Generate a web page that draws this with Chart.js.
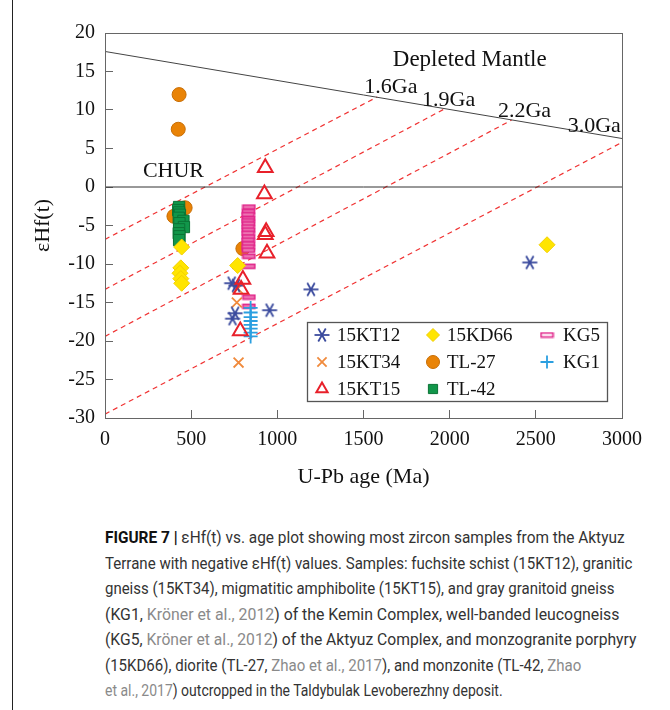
<!DOCTYPE html>
<html lang="en">
<head>
  <meta charset="UTF-8"/>
  <title>eHf(t) vs age</title>
  <script src="https://cdn.jsdelivr.net/npm/chart.js"></script>
  <style>
    body { margin: 0; background: #fff; width: 670px; height: 710px; position: relative; overflow: hidden; }
    #edge { position: absolute; left: 12px; top: 0; width: 0; height: 710px; border-left: 1.5px solid #222; }
    #wrap { position: absolute; left: 0; top: 0; width: 670px; height: 500px; }
    #caption { position: absolute; left: 105px; top: 525px;
      font-family: Roboto, "Liberation Sans", sans-serif; font-size: 17px; line-height: 25.5px;
      color: #333; white-space: nowrap; }
    #caption div { display: inline-block; transform-origin: left top; }
    #caption b { color: #111; }
    #caption .ref { color: #8a8a8a; }
  </style>
</head>
<body>
  <div id="edge"></div>
  <div id="wrap"><canvas id="chart" width="670" height="500"></canvas></div>
  <div id="caption">
    <div data-w="520"><b>FIGURE 7 |</b> εHf(t) vs. age plot showing most zircon samples from the Aktyuz</div><br>
    <div data-w="527">Terrane with negative εHf(t) values. Samples: fuchsite schist (15KT12), granitic</div><br>
    <div data-w="509">gneiss (15KT34), migmatitic amphibolite (15KT15), and gray granitoid gneiss</div><br>
    <div data-w="514">(KG1, <span class="ref">Kröner et al., 2012</span>) of the Kemin Complex, well-banded leucogneiss</div><br>
    <div data-w="531">(KG5, <span class="ref">Kröner et al., 2012</span>) of the Aktyuz Complex, and monzogranite porphyry</div><br>
    <div data-w="476">(15KD66), diorite (TL-27, <span class="ref">Zhao et al., 2017</span>), and monzonite (TL-42, <span class="ref">Zhao</span></div><br>
    <div data-w="398"><span class="ref">et al., 2017</span>) outcropped in the Taldybulak Levoberezhny deposit.</div>
  </div>

  <script>
    // sample data: U-Pb age (Ma) and eHf(t)
    const age15KT12 = [735, 760, 755, 740, 955, 1195, 2465];
    const eps15KT12 = [-12.5, -12.8, -16.4, -17.1, -16.0, -13.3, -9.8];

    const age15KT34 = [770, 765, 775];
    const eps15KT34 = [-13.2, -15.0, -22.8];

    const age15KT15 = [930, 925, 935, 930, 940, 800, 790, 785];
    const eps15KT15 = [2.5, -0.9, -5.8, -6.2, -8.6, -12.0, -13.3, -18.7];

    const age15KD66 = [445, 440, 435, 440, 445, 770, 2565];
    const eps15KD66 = [-7.8, -10.5, -11.2, -11.9, -12.5, -10.2, -7.5];

    const ageTL27 = [430, 425, 400, 465, 800];
    const epsTL27 = [12.0, 7.5, -3.8, -2.7, -8.0];

    const ageTL42 = [430, 425, 430, 435, 428, 455, 432, 458, 430, 428, 432, 430];
    const epsTL42 = [-2.6, -3.0, -3.3, -3.6, -4.0, -4.4, -4.7, -5.2, -5.5, -6.0, -6.4, -6.9];

    const ageKG5 = [835, 832, 830, 832, 830, 832, 830, 832, 830, 832, 830, 832, 830, 832, 835, 835, 835, 835];
    const epsKG5 = [-2.6, -3.2, -3.6, -4.1, -4.4, -4.8, -5.2, -5.6, -6.0, -6.5, -6.9, -7.4, -7.8, -8.2, -9.0, -10.3, -14.3, -15.5];

    const ageKG1 = [845, 845, 845, 845, 845, 845, 845, 845];
    const epsKG1 = [-15.7, -16.3, -16.9, -17.4, -17.9, -18.4, -18.9, -19.4];

    // reference lines
    const dmAge = [0, 3000];
    const dmEps = [17.6, 6.3];
    const churAge = [0, 3000];
    const churEps = [0, 0];
    const evoLabels = ['1.6Ga', '1.9Ga', '2.2Ga', '3.0Ga'];
    const evoAgeStart = [0, 0, 0, 0];
    const evoEpsStart = [-6.8, -13.3, -19.4, -29.5];
    const evoAgeEnd = [1580, 1975, 2360, 3000];
    const evoEpsEnd = [11.7, 10.2, 8.7, 5.8];

    const xTicks = [0, 500, 1000, 1500, 2000, 2500, 3000];
    const yTicks = [20, 15, 10, 5, 0, -5, -10, -15, -20, -25, -30];

    const zip = (a, b) => a.map((v, i) => ({x: v, y: b[i]}));

    // squeeze each caption line to the width it has in the figure
    document.querySelectorAll('#caption div').forEach(d => {
      d.style.transform = 'scaleX(' + (d.dataset.w / d.offsetWidth) + ')';
    });

    // custom markers
    function asterisk(color) {
      let c = document.createElement('canvas');
      c.width = 18; c.height = 18;
      let g = c.getContext('2d');
      g.strokeStyle = color; g.lineWidth = 1.8;
      for (let a = 0; a < 3; a++) {
        let t = a * Math.PI / 3;
        g.beginPath();
        g.moveTo(9 - 7.5 * Math.cos(t), 9 - 7.5 * Math.sin(t));
        g.lineTo(9 + 7.5 * Math.cos(t), 9 + 7.5 * Math.sin(t));
        g.stroke();
      }
      return c;
    }
    function bar(color, fill) {
      let c = document.createElement('canvas');
      c.width = 15; c.height = 7;
      let g = c.getContext('2d');
      g.fillStyle = fill;
      g.fillRect(1, 1, 13, 5);
      g.strokeStyle = color; g.lineWidth = 1.6;
      g.strokeRect(1.5, 1.5, 12, 4);
      return c;
    }

    const navy = '#3b4b9e', orangeX = '#f08a3c', red = '#e8202a', yellow = '#ffe500',
          orange = '#e98306', green = '#11964a', pink = '#e0268a', sky = '#2b9fe0';

    const samples = [
      {label: '15KT12', data: zip(age15KT12, eps15KT12), pointStyle: asterisk(navy), pointRadius: 8,
       backgroundColor: navy, borderColor: navy, order: 2},
      {label: '15KT34', data: zip(age15KT34, eps15KT34), pointStyle: 'crossRot', pointRadius: 7, borderWidth: 1.8,
       backgroundColor: orangeX, borderColor: orangeX, order: 3},
      {label: '15KT15', data: zip(age15KT15, eps15KT15), pointStyle: 'triangle', pointRadius: 8.5, borderWidth: 2,
       backgroundColor: 'rgba(255,255,255,0)', borderColor: red, order: 1},
      {label: '15KD66', data: zip(age15KD66, eps15KD66), pointStyle: 'rectRot', pointRadius: 8, borderWidth: 1,
       backgroundColor: yellow, borderColor: '#f2cf00', order: 4},
      {label: 'TL-27', data: zip(ageTL27, epsTL27), pointStyle: 'circle', pointRadius: 7, borderWidth: 1,
       backgroundColor: orange, borderColor: '#c86e05', order: 9},
      {label: 'TL-42', data: zip(ageTL42, epsTL42), pointStyle: 'rect', pointRadius: 8, borderWidth: 1,
       backgroundColor: green, borderColor: '#0b7335', order: 8},
      {label: 'KG5', data: zip(ageKG5, epsKG5), pointStyle: bar(pink, '#ee7ab5'), pointRadius: 7,
       backgroundColor: pink, borderColor: pink, order: 6},
      {label: 'KG1', data: zip(ageKG1, epsKG1), pointStyle: 'cross', pointRadius: 7, borderWidth: 1.8,
       backgroundColor: sky, borderColor: sky, order: 5}
    ];
    const legendStyle = {KG5: bar(pink, '#fff')};

    const lines = [
      {label: 'DM', data: zip(dmAge, dmEps), showLine: true, pointRadius: 0, borderColor: '#444',
       borderWidth: 1, order: 20},
      {label: 'CHUR', data: zip(churAge, churEps), showLine: true, pointRadius: 0, borderColor: '#333',
       borderWidth: 1, order: 20}
    ];
    evoLabels.forEach((lab, i) => {
      lines.push({label: lab, data: zip([evoAgeStart[i], evoAgeEnd[i]], [evoEpsStart[i], evoEpsEnd[i]]),
        showLine: true, pointRadius: 0, borderColor: '#f03232', borderWidth: 1.2, borderDash: [5, 4], order: 20});
    });

    const serif = '"Liberation Serif", "Times New Roman", serif';

    // plot frame (top and right sides too)
    const framePlugin = {
      id: 'frame',
      afterDatasetsDraw(chart) {
        const {ctx, chartArea: a} = chart;
        ctx.save();
        ctx.strokeStyle = '#666';
        ctx.lineWidth = 1;
        ctx.strokeRect(a.left + 0.5, a.top + 0.5, a.right - a.left, a.bottom - a.top);
        ctx.restore();
      }
    };

    // text labels on the plot
    const notesPlugin = {
      id: 'notes',
      afterDatasetsDraw(chart) {
        const {ctx, scales: {x, y}} = chart;
        const notes = [
          ['Depleted Mantle', 1670, 16.5, 23],
          ['CHUR', 220, 2.1, 22],
          ['1.6Ga', 1505, 13.0, 22],
          ['1.9Ga', 1840, 11.3, 22],
          ['2.2Ga', 2280, 9.9, 22],
          ['3.0Ga', 2685, 7.9, 22]
        ];
        ctx.save();
        ctx.fillStyle = '#111';
        ctx.textBaseline = 'middle';
        ctx.textAlign = 'left';
        notes.forEach(n => {
          ctx.font = n[3] + 'px ' + serif;
          ctx.fillText(n[0], x.getPixelForValue(n[1]), y.getPixelForValue(n[2]));
        });
        ctx.restore();
      }
    };

    // legend box in three columns
    const legendPlugin = {
      id: 'boxLegend',
      afterDraw(chart) {
        const ctx = chart.ctx;
        const bx = 307, by = 322, bw = 300, bh = 79;
        const colM = [322, 433, 547], colT = [337, 447, 563], rowY = [335, 362, 389];
        const slots = [[0, 0], [0, 1], [0, 2], [1, 0], [1, 1], [1, 2], [2, 0], [2, 1]];
        ctx.save();
        ctx.fillStyle = '#fff';
        ctx.fillRect(bx, by, bw, bh);
        ctx.strokeStyle = '#555';
        ctx.lineWidth = 1.3;
        ctx.strokeRect(bx + 0.5, by + 0.5, bw, bh);
        ctx.font = '19px ' + serif;
        ctx.textBaseline = 'middle';
        samples.forEach((s, i) => {
          const [c, r] = slots[i];
          ctx.fillStyle = s.backgroundColor;
          ctx.strokeStyle = s.borderColor;
          ctx.lineWidth = s.borderWidth || 1;
          Chart.helpers.drawPoint(ctx, {
            pointStyle: legendStyle[s.label] || s.pointStyle, rotation: 0,
            radius: 6.5, borderWidth: s.borderWidth || 1
          }, colM[c], rowY[r]);
          ctx.fillStyle = '#111';
          ctx.fillText(s.label, colT[c], rowY[r] + 1);
        });
        ctx.restore();
      }
    };

    new Chart(document.getElementById('chart'), {
      type: 'scatter',
      data: {datasets: [...samples, ...lines]},
      options: {
        responsive: false,
        animation: false,
        layout: {padding: {top: 33, right: 48, bottom: 0, left: 0}},
        plugins: {legend: {display: false}, tooltip: {enabled: false}},
        scales: {
          x: {
            type: 'linear', min: 0, max: 3000,
            afterBuildTicks: s => { s.ticks = xTicks.map(v => ({value: v})); },
            afterFit: s => { s.height = 82; },
            ticks: {color: '#111', font: {family: serif, size: 20}, padding: 18, maxRotation: 0,
                    callback: v => String(v)},
            grid: {drawOnChartArea: false, drawTicks: true, tickLength: -8, color: '#666'},
            border: {color: '#666'},
            title: {display: true, text: 'U-Pb age (Ma)', color: '#111',
                    font: {family: serif, size: 22}, padding: {top: 0, bottom: 10}}
          },
          y: {
            type: 'linear', min: -30, max: 20,
            afterBuildTicks: s => { s.ticks = yTicks.map(v => ({value: v})); },
            afterFit: s => { s.width = 105; },
            ticks: {color: '#111', font: {family: serif, size: 20}, padding: 18,
                    callback: v => String(v)},
            grid: {drawOnChartArea: false, drawTicks: true, tickLength: -8, color: '#666'},
            border: {color: '#666'},
            title: {display: true, text: 'εHf(t)', color: '#111',
                    font: {family: serif, size: 22}, padding: {top: 30, bottom: 0}}
          }
        }
      },
      plugins: [framePlugin, notesPlugin, legendPlugin]
    });
  </script>
</body>
</html>
